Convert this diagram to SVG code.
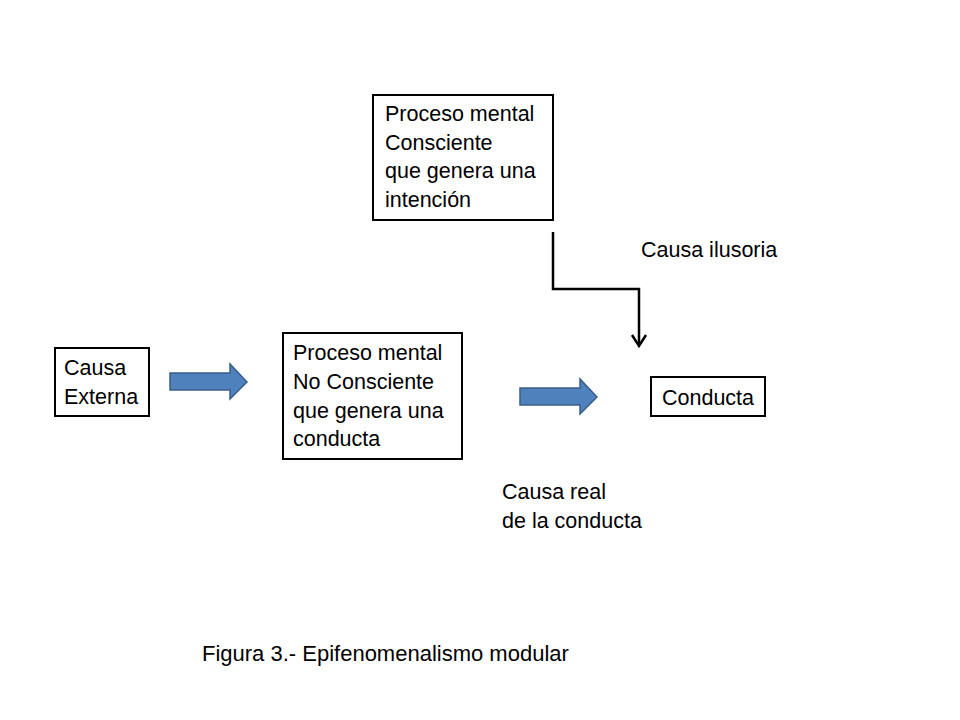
<svg xmlns="http://www.w3.org/2000/svg" width="960" height="720" viewBox="0 0 960 720">
<defs>
<style>
.box{fill:#fff;stroke:#000;stroke-width:2}
.t{font-family:"Liberation Sans",Arial,sans-serif;font-size:21.5px;fill:#000}
.cap{font-size:22px}
.blk{fill:#4F81BD;stroke:#3A5F8B;stroke-width:1.5}
.conn{fill:none;stroke:#000;stroke-width:2.5}
</style>
</defs>
<rect width="960" height="720" fill="#fff"/>
<g id="node-proceso-consciente">
<rect class="box" x="373" y="95" width="180" height="125"/>
<text class="t" x="385" y="121">Proceso mental</text>
<text class="t" x="385" y="150">Consciente</text>
<text class="t" x="385" y="178">que genera una</text>
<text class="t" x="385" y="207">intención</text>
</g>
<g id="node-causa-externa">
<rect class="box" x="55" y="348" width="94" height="68"/>
<text class="t" x="64" y="375">Causa</text>
<text class="t" x="64" y="404">Externa</text>
</g>
<g id="node-proceso-no-consciente">
<rect class="box" x="283" y="333" width="179" height="126"/>
<text class="t" x="293" y="360">Proceso mental</text>
<text class="t" x="293" y="389">No Consciente</text>
<text class="t" x="293" y="418">que genera una</text>
<text class="t" x="293" y="446">conducta</text>
</g>
<g id="node-conducta">
<rect class="box" x="651" y="377" width="114" height="39"/>
<text class="t" x="662" y="405">Conducta</text>
</g>
<g id="connectors">
<polygon class="blk" points="170,373 230,373 230,364 247,382 230,399 230,390 170,390"/>
<polygon class="blk" points="520,388 580,388 580,379 597,397 580,414 580,405 520,405"/>
<polyline class="conn" points="553,232 553,289 639,289 639,345"/>
<polyline class="conn" points="632,335 639,346 646,335"/>
</g>
<g id="labels">
<text class="t" x="641" y="257">Causa ilusoria</text>
<text class="t" x="502" y="499">Causa real</text>
<text class="t" x="502" y="528">de la conducta</text>
<text class="t cap" x="202" y="661">Figura 3.- Epifenomenalismo modular</text>
</g>
</svg>
